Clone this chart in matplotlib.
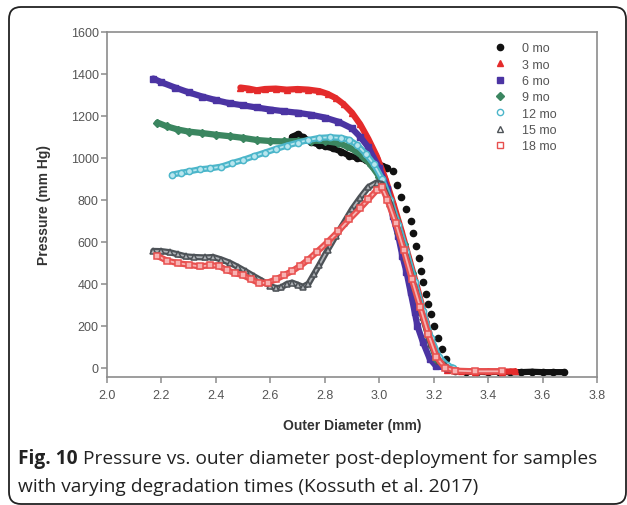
import numpy as np
import matplotlib
matplotlib.use("Agg")
import matplotlib.pyplot as plt
from matplotlib.patches import FancyBboxPatch
from matplotlib.transforms import IdentityTransform

# data (outer diameter mm, pressure mm Hg)
x0 = [2.68, 2.70, 2.72, 2.75, 2.78, 2.80, 2.83, 2.86, 2.89, 2.92, 2.95, 2.98, 3.01, 3.03,
      3.05, 3.065, 3.08, 3.10, 3.115, 3.125, 3.135, 3.145, 3.155, 3.16, 3.17, 3.18, 3.19,
      3.20, 3.215, 3.23, 3.245, 3.26, 3.28, 3.32, 3.36, 3.40, 3.44, 3.48, 3.52, 3.56, 3.60, 3.64, 3.68]
y0 = [1100, 1112, 1098, 1075, 1062, 1055, 1045, 1030, 1010, 1000, 990, 975, 962, 952,
      935, 870, 812, 755, 698, 640, 580, 520, 460, 410, 352, 304, 256,
      200, 140, 90, 40, 0, -15, -20, -20, -22, -20, -22, -22, -20, -22, -22, -22]

x3 = [2.49, 2.52, 2.55, 2.58, 2.62, 2.66, 2.70, 2.74, 2.78, 2.81, 2.84, 2.87, 2.90, 2.93,
      2.96, 2.99, 3.02, 3.05, 3.08, 3.11, 3.14, 3.17, 3.20, 3.22, 3.25, 3.30, 3.35, 3.40, 3.45, 3.50]
y3 = [1335, 1330, 1322, 1328, 1330, 1325, 1328, 1325, 1318, 1305, 1285, 1255, 1215, 1160,
      1090, 1010, 910, 790, 660, 520, 380, 230, 90, 20, -10, -18, -20, -18, -20, -18]

x6 = [2.17, 2.20, 2.25, 2.30, 2.35, 2.40, 2.45, 2.50, 2.55, 2.60, 2.65, 2.70, 2.75, 2.80,
      2.85, 2.90, 2.93, 2.96, 3.00, 3.03, 3.05, 3.07, 3.085, 3.10, 3.115, 3.13, 3.14, 3.16,
      3.185, 3.21, 3.25]
y6 = [1378, 1360, 1335, 1312, 1292, 1275, 1260, 1250, 1240, 1230, 1222, 1215, 1205, 1192,
      1172, 1140, 1100, 1050, 950, 850, 722, 627, 532, 456, 361, 266, 199, 123,
      43, 5, 0]

x9 = [2.185, 2.22, 2.26, 2.30, 2.35, 2.40, 2.45, 2.50, 2.55, 2.60, 2.65, 2.70, 2.75, 2.80,
      2.85, 2.88, 2.91, 2.94, 2.97, 3.00, 3.03, 3.06, 3.09, 3.12, 3.15, 3.18, 3.21, 3.24, 3.26]
y9 = [1168, 1150, 1135, 1125, 1118, 1110, 1103, 1095, 1085, 1080, 1078, 1080, 1082, 1080,
      1070, 1055, 1035, 1005, 965, 910, 820, 710, 590, 450, 300, 150, 40, 5, 0]

x12 = [2.24, 2.27, 2.30, 2.34, 2.38, 2.42, 2.46, 2.50, 2.54, 2.58, 2.62, 2.66, 2.70, 2.74,
       2.78, 2.82, 2.86, 2.89, 2.92, 2.95, 2.98, 3.01, 3.04, 3.07, 3.10, 3.13, 3.16, 3.19,
       3.22, 3.25, 3.27]
y12 = [920, 928, 935, 945, 950, 958, 975, 990, 1008, 1025, 1042, 1058, 1072, 1085,
       1095, 1098, 1095, 1085, 1060, 1020, 970, 900, 800, 680, 550, 410, 270, 140,
       50, 10, 0]

x15 = [2.17, 2.20, 2.23, 2.26, 2.29, 2.32, 2.36, 2.39, 2.42, 2.45, 2.48, 2.51, 2.54, 2.57,
       2.60, 2.62, 2.64, 2.66, 2.68, 2.70, 2.72, 2.74, 2.76, 2.78, 2.81, 2.84, 2.87, 2.90,
       2.93, 2.96, 2.99, 3.01, 3.04, 3.07, 3.10, 3.13, 3.16, 3.19, 3.22, 3.25]
y15 = [556, 555, 550, 540, 530, 527, 525, 527, 515, 500, 480, 458, 435, 413,
       390, 378, 382, 398, 405, 395, 385, 400, 445, 490, 560, 627, 690, 755,
       810, 860, 882, 875, 780, 650, 520, 380, 240, 110, 30, 0]

x18 = [2.185, 2.22, 2.26, 2.30, 2.34, 2.38, 2.41, 2.44, 2.47, 2.50, 2.53, 2.56, 2.59, 2.62,
       2.65, 2.68, 2.71, 2.74, 2.77, 2.81, 2.85, 2.89, 2.93, 2.96, 2.99, 3.01, 3.03, 3.06,
       3.09, 3.12, 3.15, 3.18, 3.21, 3.24, 3.28, 3.35, 3.45]
y18 = [532, 510, 498, 490, 482, 488, 485, 465, 450, 440, 420, 402, 405, 420,
       440, 460, 485, 515, 550, 598, 650, 707, 760, 802, 845, 860, 800, 690,
       560, 420, 290, 160, 50, 0, -15, -18, -18]

labels = ["0 mo", "3 mo", "6 mo", "9 mo", "12 mo", "15 mo", "18 mo"]
colors = ["#111111", "#e42b2b", "#4b34a3", "#3b8660", "#4cb6ca", "#4d5257", "#e8504f"]
inner = [None, None, None, None, "#b9e6ee", "#b0b4b8", "#f7b3b3"]
markers = ["o", "^", "s", "D", "o", "^", "s"]
xs = [x0, x3, x6, x9, x12, x15, x18]
ys = [y0, y3, y6, y9, y12, y15, y18]

fig = plt.figure(figsize=(6.27, 5.06), dpi=100)
ax = fig.add_axes([0.1707, 0.253, 0.7815, 0.6818])

for i in range(7):
    xa = np.array(xs[i])
    ya = np.array(ys[i], dtype=float)
    yl = ya.copy()
    if i == 0:
        # the descent of the 0 mo curve shows separate dots
        yl[(xa > 3.04) & (xa < 3.25)] = np.nan
    ax.plot(xa, yl, color=colors[i], lw=4.5, solid_capstyle="round", zorder=2 + i)
    if inner[i]:
        ax.plot(xa, ya, color=inner[i], lw=1.3, zorder=2 + i)
        ax.plot(xa, ya, ls="none", marker=markers[i], ms=4.5, mfc=inner[i],
                mec=colors[i], mew=1.1, zorder=2 + i)
        ax.plot([], [], ls="none", marker=markers[i], ms=4.5, mfc="white",
                mec=colors[i], mew=1.0, label=labels[i])
    else:
        ax.plot(xa, ya, ls="none", marker=markers[i], ms=4.5 if markers[i] != "D" else 3.8,
                color=colors[i], zorder=2 + i)
        ax.plot([], [], ls="none", marker=markers[i], ms=4.5 if markers[i] != "D" else 3.8,
                color=colors[i], label=labels[i])

ax.set_xlim(2.0, 3.8)
ax.set_ylim(-45, 1600)
ax.set_xticks(np.arange(2.0, 3.81, 0.2))
ax.set_xticklabels(["2.0", "2.2", "2.4", "2.6", "2.8", "3.0", "3.2", "3.4", "3.6", "3.8"])
ax.set_yticks(np.arange(0, 1601, 200))

for s in ax.spines.values():
    s.set_color("#8c8c8c")
    s.set_linewidth(1.2)
ax.tick_params(direction="out", length=4, width=1.1, color="#8c8c8c",
               labelsize=9, labelcolor="#555555")
ax.tick_params(axis="x", pad=5)
ax.tick_params(axis="y", pad=2)
for t in ax.get_xticklabels() + ax.get_yticklabels():
    t.set_fontfamily("Liberation Sans")

ax.set_xlabel("Outer Diameter (mm)", fontfamily="Liberation Sans", fontweight="bold",
              fontsize=10, color="#333333", labelpad=12)
ax.set_ylabel("Pressure (mm Hg)", fontfamily="Liberation Sans", fontweight="bold",
              fontsize=10, color="#333333", labelpad=14)

leg = ax.legend(loc="upper left", bbox_to_anchor=(0.78, 0.985), frameon=False,
                handlelength=1.0, handletextpad=1.2, labelspacing=0.35,
                borderaxespad=0, prop={"family": "Liberation Sans", "size": 9})
for t in leg.get_texts():
    t.set_color("#555555")

# rounded frame round the figure and caption
frame = FancyBboxPatch((9, 1), 617, 497, boxstyle="round,pad=0,rounding_size=12",
                       transform=IdentityTransform(), fill=False, ec="#222222",
                       lw=1.3, figure=fig)
fig.patches.append(frame)

fig.canvas.draw()
r = fig.canvas.get_renderer()
t1 = fig.text(0.0287, 0.093, "Fig. 10", fontfamily="Open Sans", fontweight="bold",
              fontsize=13.8, color="#222222", va="center")
bb = t1.get_window_extent(r)
fig.text((bb.x1 + 5) / fig.bbox.width, 0.093,
         "Pressure vs. outer diameter post-deployment for samples",
         fontfamily="Open Sans", fontsize=13.8, color="#222222", va="center")
fig.text(0.0287, 0.0375, "with varying degradation times (Kossuth et al. 2017)",
         fontfamily="Open Sans", fontsize=13.8, color="#222222", va="center")

fig.savefig("out.png", dpi=100)
